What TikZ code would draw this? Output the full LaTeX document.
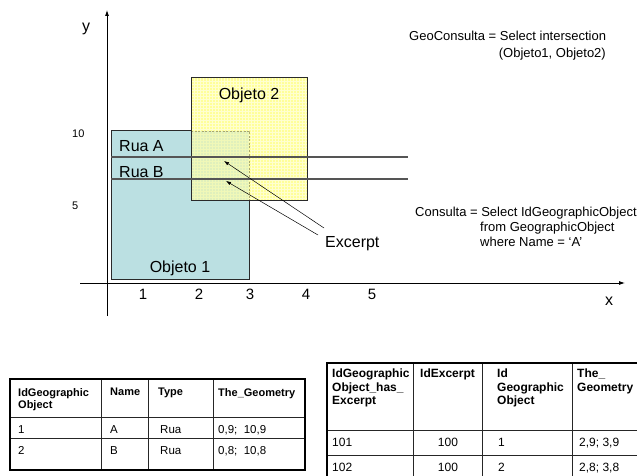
\documentclass[tikz,border=0pt]{standalone}
\usepackage{fontspec}
\setmainfont{Liberation Sans}
\usetikzlibrary{arrows.meta}
\definecolor{tealfill}{HTML}{BBE0E2}
\definecolor{yelfill}{HTML}{FFFF99}
\definecolor{yelgrid}{HTML}{FFFFCF}
\definecolor{ovfill}{HTML}{E0F0BC}
\definecolor{ovgrid}{HTML}{F0F8B8}
\definecolor{ovdash}{HTML}{A8A870}
\definecolor{rualine}{HTML}{555555}
\definecolor{boxline}{HTML}{2A2A2A}
\begin{document}
\begin{tikzpicture}[x=1pt,y=-1pt,
  big/.style={font=\fontsize{16}{19}\selectfont,inner sep=0pt},
  tick/.style={font=\fontsize{15}{18}\selectfont,inner sep=0pt,anchor=base},
  ytick/.style={font=\fontsize{11}{13}\selectfont,inner sep=0pt,anchor=base west},
  query/.style={font=\fontsize{13}{15}\selectfont,inner sep=0pt},
  axis/.style={line width=0.8pt,-{Latex[length=6pt,width=4pt]}},
  ptr/.style={line width=0.5pt,-{Latex[length=5pt,width=3.5pt]}},
  obj/.style={draw=boxline,line width=1pt},
  rua/.style={draw=rualine,line width=1.2pt},
  hdA/.style={font=\fontsize{11}{12.5}\selectfont\bfseries,inner sep=0pt,anchor=north west,align=left},
  hdB/.style={font=\fontsize{12}{13.5}\selectfont\bfseries,inner sep=0pt,anchor=north west,align=left},
  cellA/.style={font=\fontsize{11.5}{13}\selectfont,inner sep=0pt,anchor=base west},
  cellB/.style={font=\fontsize{12}{14}\selectfont,inner sep=0pt,anchor=base west},
  tin/.style={line width=0.6pt,draw=black!85},
  tout/.style={line width=1.6pt,draw=black},
]
\useasboundingbox (0,0) rectangle (637,476);
\clip (0,0) rectangle (637,476);
\fill[white] (0,0) rectangle (637,476);

% Objeto 1
\filldraw[obj,fill=tealfill] (111,131) rectangle (249,279);
% Objeto 2
\fill[yelfill] (191,78) rectangle (307,200);
\foreach \i in {194,197,...,305} \draw[yelgrid,line width=0.5pt] (\i,78) -- (\i,200);
\foreach \j in {81,84,...,198} \draw[yelgrid,line width=0.5pt] (191,\j) -- (307,\j);
% overlap
\fill[ovfill] (191,131) rectangle (249,200);
\foreach \i in {194,197,...,248} \draw[ovgrid,line width=0.5pt] (\i,131) -- (\i,200);
\foreach \j in {134,137,...,198} \draw[ovgrid,line width=0.5pt] (191,\j) -- (249,\j);
\draw[ovdash,line width=0.6pt,dash pattern=on 2pt off 1.5pt] (191,131) -- (249,131) -- (249,200);
\draw[obj] (191,78) rectangle (307,200);

% streets
\draw[rua] (111,157) -- (408,157);
\draw[rua] (111,179) -- (408,179);

% labels in drawing
\node[big,anchor=base] (obj2) at (249,100) {Objeto 2};
\node[big,anchor=base] (obj1) at (180,272) {Objeto 1};
\node[big,anchor=base west] (ruaA) at (119,152) {Rua A};
\node[big,anchor=base west] (ruaB) at (119,177.5) {Rua B};
\node[big,anchor=base west] (exc) at (325,247) {Excerpt};

% excerpt pointers
\coordinate (ta) at (324,228);
\coordinate (ha) at (224,161);
\coordinate (tb) at (318,235);
\coordinate (hb) at (226,181);
\draw[ptr] (ta) -- (ha);
\draw[ptr] (tb) -- (hb);

% axes
\coordinate (ybot) at (107,316);
\coordinate (ytop) at (107,10);
\coordinate (xl) at (80,283);
\coordinate (xr) at (625,283);
\draw[axis] (ybot) -- (ytop);
\draw[axis] (xl) -- (xr);
\node[big,anchor=base] (ylab) at (86,31.6) {y};
\node[big,anchor=base] (xlab) at (609,305) {x};
\node[tick] (t1) at (143,299) {1};
\node[tick] (t2) at (199,299) {2};
\node[tick] (t3) at (250,299) {3};
\node[tick] (t4) at (306,299) {4};
\node[tick] (t5) at (372,299) {5};
\node[ytick] (y10) at (72,138) {10};
\node[ytick] (y5) at (72,209) {5};

% queries
\node[query,anchor=base west] (geo1) at (409,41) {GeoConsulta = Select intersection};
\node[query,anchor=base east] (geo2) at (606,58) {(Objeto1, Objeto2)};
\node[query,anchor=base west] (cons1) at (415,216) {Consulta = Select IdGeographicObject};
\node[query,anchor=base west] (cons2) at (480,231.5) {from GeographicObject};
\node[query,anchor=base west] (cons3) at (480,246.5) {where Name = ‘A’};

% table 1
\draw[tin] (10,417) -- (305,417);
\draw[tin] (10,438) -- (305,438);
\draw[tin] (101,379) -- (101,470);
\draw[tin] (148,379) -- (148,470);
\draw[tin] (213,379) -- (213,470);
\draw[tout] (10,379) rectangle (305,470);
\node[hdA] (a11) at (18,388) {IdGeographic\\Object};
\node[hdA] (a12) at (110,388) {Name};
\node[hdA] (a13) at (158,388) {Type};
\node[hdA] (a14) at (218,388) {The\_Geometry};
\node[cellA] (a21) at (18,433) {1};
\node[cellA] (a22) at (110,433) {A};
\node[cellA] (a23) at (160,433) {Rua};
\node[cellA] (a24) at (218,433) {0,9;~ 10,9};
\node[cellA] (a31) at (18,454.5) {2};
\node[cellA] (a32) at (110,454.5) {B};
\node[cellA] (a33) at (160,454.5) {Rua};
\node[cellA] (a34) at (218,454.5) {0,8;~ 10,8};

% table 2
\draw[tin] (327,430) -- (645,430);
\draw[tin] (327,455) -- (645,455);
\draw[tin] (413,363) -- (413,485);
\draw[tin] (482,363) -- (482,485);
\draw[tin] (572,363) -- (572,485);
\draw[tout] (645,363) -- (327,363) -- (327,485);
\node[hdB] (b11) at (332,369) {IdGeographic\\Object\_has\_\\Excerpt};
\node[hdB] (b12) at (420,369) {IdExcerpt};
\node[hdB] (b13) at (497,369) {Id\\Geographic\\Object};
\node[hdB] (b14) at (577,369) {The\_\\Geometry};
\node[cellB] (b21) at (332,446) {101};
\node[cellB,anchor=base] (b22) at (448,446) {100};
\node[cellB] (b23) at (498,446) {1};
\node[cellB] (b24) at (579,446) {2,9; 3,9};
\node[cellB] (b31) at (332,471) {102};
\node[cellB,anchor=base] (b32) at (448,471) {100};
\node[cellB] (b33) at (498,471) {2};
\node[cellB] (b34) at (579,471) {2,8; 3,8};
\end{tikzpicture}
\end{document}
